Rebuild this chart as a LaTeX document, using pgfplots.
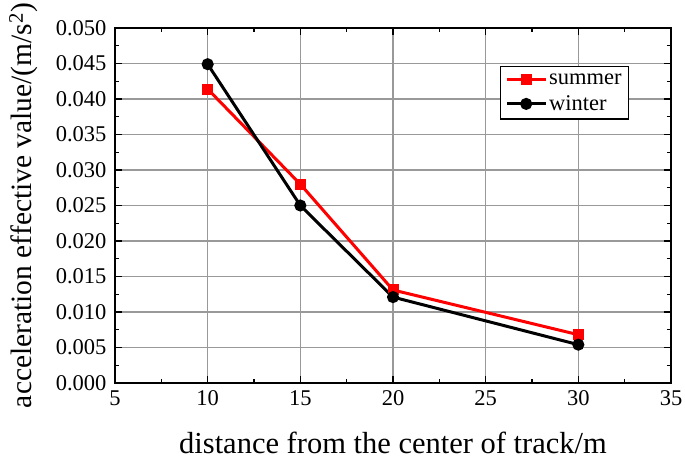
\documentclass[border=0pt]{standalone}
\usepackage{pgfplots}
\pgfplotsset{compat=1.18}
\usepackage{fontspec}
\setmainfont{Liberation Serif}

\begin{document}
\begin{tikzpicture}
\path[use as bounding box] (-115pt,-80pt) rectangle (570pt,383pt);
\begin{axis}[
    at={(0,0)}, anchor=south west,
    scale only axis,
    width=556pt, height=355pt,
    xmin=5, xmax=35, ymin=0, ymax=0.05,
    xtick={5,10,...,35},
    ytick={0,0.005,...,0.0501},
    minor tick num=1,
    tick align=inside,
    major tick length=7pt, minor tick length=4pt,
    tick style={black, line width=1.2pt},
    axis line style={line width=1.5pt},
    grid=major,
    major grid style={gray!80, line width=1.3pt},
    /pgf/number format/assume math mode=true,
    yticklabel style={/pgf/number format/fixed, /pgf/number format/fixed zerofill, /pgf/number format/precision=3, xshift=-5pt},
    xticklabel style={yshift=-4.5pt},
    scaled y ticks=false,
    ticklabel style={font=\fontsize{22.5}{27}\selectfont},
    xlabel={distance from the center of track/m},
    ylabel={acceleration effective value/(m/s\textsuperscript{2})},
    label style={font=\fontsize{30.5}{36}\selectfont, inner sep=0pt},
    xlabel style={at={(axis description cs:0.5,0)}, anchor=base, yshift=-70pt},
    ylabel style={at={(axis description cs:0,0.5)}, anchor=north, yshift=106pt, font=\fontsize{29.5}{35}\selectfont},
    legend style={at={(0.692,0.893)}, anchor=north west, draw=black, line width=1.2pt,
        font=\fontsize{22.5}{27}\selectfont, row sep=6pt, inner sep=5pt},
    legend cell align=left,
    legend image code/.code={\draw[mark repeat=2,mark phase=2] plot coordinates {(0cm,0cm) (0.68cm,0cm) (1.36cm,0cm)};},
]
\addplot[red, line width=3pt, mark=square*, mark size=4pt, mark options={solid}]
coordinates {(10,0.0414) (15,0.0280) (20,0.0131) (30,0.0068)};
\addlegendentry{summer}
\addplot[black, line width=3pt, mark=*, mark size=4.5pt, mark options={solid}]
coordinates {(10,0.0449) (15,0.0250) (20,0.0121) (30,0.0054)};
\addlegendentry{winter}
\end{axis}
\end{tikzpicture}
\end{document}
